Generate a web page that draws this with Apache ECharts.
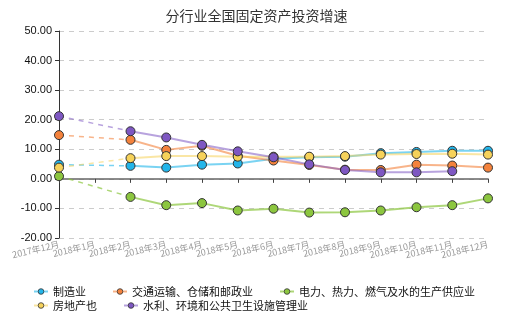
<!DOCTYPE html>
<html><head><meta charset="utf-8">
<script src="https://cdn.jsdelivr.net/npm/echarts@6/dist/echarts.min.js"></script>
<style>html,body{margin:0;padding:0;background:#fff}#c{width:513px;height:327px}</style>
</head><body><div id="c"></div>
<script>
var categories = ['2017年12月','2018年1月','2018年2月','2018年3月','2018年4月','2018年5月','2018年6月','2018年7月','2018年8月','2018年9月','2018年10月','2018年11月','2018年12月'];
var seriesNames = ['制造业','交通运输、仓储和邮政业','电力、热力、燃气及水的生产供应业','房地产也','水利、环境和公共卫生设施管理业'];
var manufacturing = [4.8, null, 4.4, 3.8, 4.8, 5.2, 6.8, 7.3, 7.5, 8.7, 9.1, 9.5, 9.5];
var transport = [14.8, null, 13.2, 9.8, 11.2, 7.8, 6.2, 4.7, 3.1, 3.0, 4.8, 4.5, 3.8];
var utilities = [0.9, null, -6.1, -8.9, -8.2, -10.7, -10.1, -11.4, -11.3, -10.7, -9.6, -8.9, -6.6];
var realEstate = [3.8, null, 7.0, 7.7, 7.7, 7.5, 7.5, 7.5, 7.7, 8.2, 8.4, 8.5, 8.2];
var waterEnv = [21.2, null, 16.1, 14.0, 11.5, 9.3, 7.3, 4.9, 3.0, 2.2, 2.2, 2.6, null];
var yTicks = {min: -20, max: 50, interval: 10};

var colors = ['#22b5ea', '#f4823c', '#8cc63f', '#f6d25a', '#7e57c2'];
var lineColors = ['rgba(34,181,234,0.6)', 'rgba(244,130,60,0.6)', 'rgba(140,198,63,0.7)', 'rgba(246,210,90,0.55)', 'rgba(126,87,194,0.55)'];
var allData = [manufacturing, transport, utilities, realEstate, waterEnv];

var series = [];
allData.forEach(function (d, i) {
  var dashed = d.map(function (v, j) { return j <= 2 ? v : null; });
  series.push({
    name: seriesNames[i] + '_gap', type: 'line', data: dashed, connectNulls: true,
    symbol: 'none', silent: true, z: 1,
    lineStyle: {color: lineColors[i], width: 1.5, type: [5, 5]},
    itemStyle: {color: colors[i]}
  });
});
allData.forEach(function (d, i) {
  series.push({
    name: seriesNames[i], type: 'line', data: d, connectNulls: false,
    symbol: 'circle', symbolSize: 9, showAllSymbol: true, z: 3,
    lineStyle: {color: lineColors[i], width: 2},
    itemStyle: {color: colors[i], borderColor: '#333', borderWidth: 1}
  });
});

var legendText = {fontFamily: 'Noto Sans CJK SC', fontSize: 11, color: '#111'};
var legendItem = {borderWidth: 0.8};
var chart = echarts.init(document.getElementById('c'), null, {renderer: 'canvas'});
chart.setOption({
  animation: false,
  title: {text: '分行业全国固定资产投资增速', left: 'center', top: 4,
    textStyle: {fontFamily: 'Noto Sans CJK SC', fontSize: 14, fontWeight: 'normal', color: '#333'}},
  grid: {left: 59, right: 25, top: 31, bottom: 89, containLabel: false},
  xAxis: {
    type: 'category', data: categories, boundaryGap: false,
    axisLine: {lineStyle: {color: '#666', width: 1.5}},
    axisTick: {show: true, length: 4, lineStyle: {color: '#444'}},
    axisLabel: {rotate: 13, fontSize: 9, color: '#999', interval: 0, margin: 6,
      fontFamily: 'Noto Sans CJK SC'},
    splitLine: {show: false}
  },
  yAxis: {
    type: 'value', min: yTicks.min, max: yTicks.max, interval: yTicks.interval,
    axisLine: {show: true, lineStyle: {color: '#333', width: 1}},
    axisTick: {show: true, length: 4, lineStyle: {color: '#333'}},
    axisLabel: {color: '#111', fontSize: 11, fontFamily: 'Liberation Sans', margin: 7,
      formatter: function (v) { return v.toFixed(2); }},
    splitLine: {lineStyle: {color: '#ccc', type: [5, 5]}}
  },
  legend: [
    {data: seriesNames.slice(0, 3), left: 33, top: 286, itemWidth: 14, itemHeight: 7, itemGap: 26,
      padding: 0, textStyle: legendText, itemStyle: legendItem},
    {data: seriesNames.slice(3), left: 33, top: 300, itemWidth: 14, itemHeight: 7, itemGap: 26,
      padding: 0, textStyle: legendText, itemStyle: legendItem}
  ],
  series: series
});
</script></body></html>
